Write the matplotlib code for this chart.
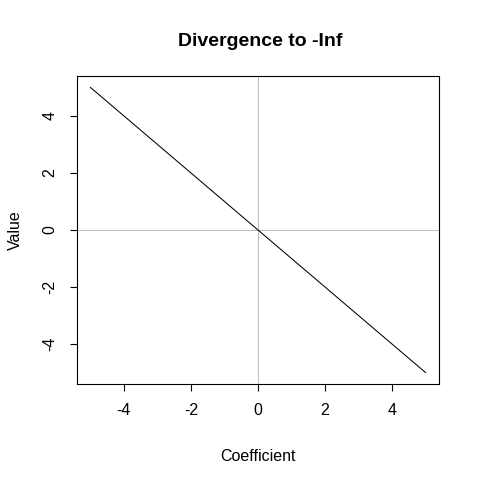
import matplotlib.pyplot as plt

plt.switch_backend("Agg")
plt.rcParams['font.family'] = ['Liberation Sans', 'DejaVu Sans']

# data
coefficient = [-5, 5]
value = [5, -5]
x_ticks = [-4, -2, 0, 2, 4]
y_ticks = [-4, -2, 0, 2, 4]

fig = plt.figure(figsize=(4.8, 4.84), dpi=100)
ax = fig.add_axes([77 / 480, 1 - 384 / 484, (439 - 77) / 480, (384 - 76) / 484])

ax.axhline(0, color="#BEBEBE", lw=0.75, zorder=1)
ax.axvline(0, color="#BEBEBE", lw=0.75, zorder=1)
ax.plot(coefficient, value, color="black", lw=0.75, zorder=2)

ax.set_xlim(-5.4, 5.4)
ax.set_ylim(-5.4, 5.4)
ax.set_xticks(x_ticks)
ax.set_yticks(y_ticks)
ax.set_xticklabels([str(t) for t in x_ticks], fontsize=11.5)
ax.set_yticklabels([str(t) for t in y_ticks], fontsize=11.5, rotation=90, va="center")
ax.tick_params(direction="out", length=5, width=0.8, pad=9)
for s in ax.spines.values():
    s.set_linewidth(0.8)

ax.set_xlabel("Coefficient", fontsize=11.5, labelpad=22)
ax.set_ylabel("Value", fontsize=11.5, labelpad=14)
fig.text(260 / 480, 1 - 41 / 484, "Divergence to -Inf", fontsize=14,
         fontweight="bold", ha="center", va="center")

fig.savefig("out.png", dpi=100)
plt.close(fig)
